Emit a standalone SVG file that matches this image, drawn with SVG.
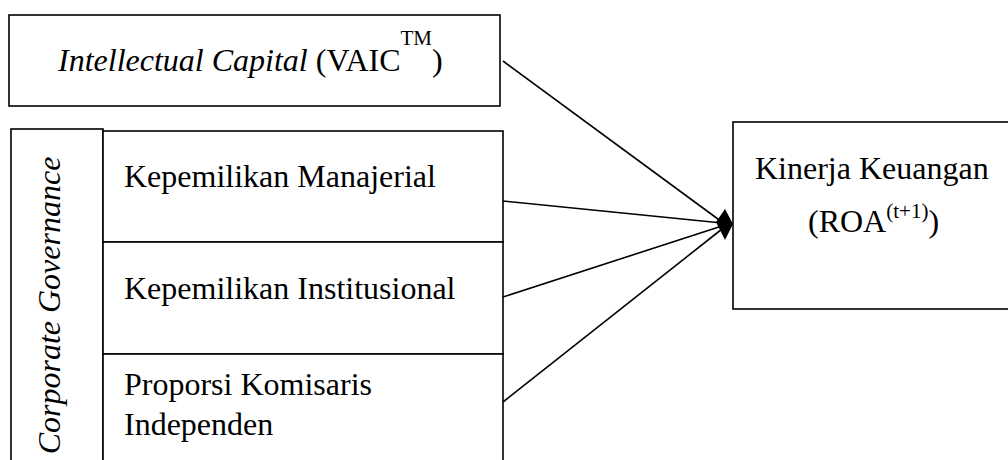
<svg xmlns="http://www.w3.org/2000/svg" width="1008" height="460" viewBox="0 0 1008 460">
<style>
.box{fill:#fff;stroke:#000;stroke-width:1.6}
.t{font-family:"Liberation Serif","Times New Roman",serif;font-size:32px;fill:#000}
.i{font-style:italic}
.c{stroke:#000;stroke-width:1.6;fill:none}
</style>
<rect width="1008" height="460" fill="#fff"/>
<g id="ic">
<rect class="box" x="9" y="15" width="491" height="91"/>
<text class="t" x="58" y="71"><tspan class="i">Intellectual Capital</tspan> (VAIC<tspan font-size="21" dy="-26">TM</tspan><tspan dy="26">)</tspan></text>
</g>
<g id="cg">
<rect class="box" x="11" y="129" width="92" height="340"/>
<text class="t i" x="60" y="305.5" text-anchor="middle" transform="rotate(-90 60 305.5)">Corporate Governance</text>
</g>
<g id="km">
<rect class="box" x="103" y="131" width="400" height="111"/>
<text class="t" x="124" y="187">Kepemilikan Manajerial</text>
</g>
<g id="ki">
<rect class="box" x="103" y="242" width="400" height="112"/>
<text class="t" x="124" y="299">Kepemilikan Institusional</text>
</g>
<g id="pki">
<rect class="box" x="103" y="354" width="400" height="115"/>
<text class="t" x="124" y="395">Proporsi Komisaris</text>
<text class="t" x="124" y="435">Independen</text>
</g>
<g id="kk">
<rect class="box" x="733" y="122" width="290" height="187"/>
<text class="t" x="755" y="179">Kinerja Keuangan</text>
<text class="t" x="808" y="232">(ROA<tspan font-size="21" dy="-14">(t+1)</tspan><tspan dy="14">)</tspan></text>
</g>
<g id="connectors">
<line class="c" x1="503" y1="61" x2="722" y2="222"/>
<line class="c" x1="503" y1="201" x2="722" y2="223"/>
<line class="c" x1="503" y1="297" x2="722" y2="226"/>
<line class="c" x1="503" y1="402" x2="722" y2="229"/>
<polygon points="716,222 725,209 733,224 725,240" fill="#000"/>
</g>
</svg>
